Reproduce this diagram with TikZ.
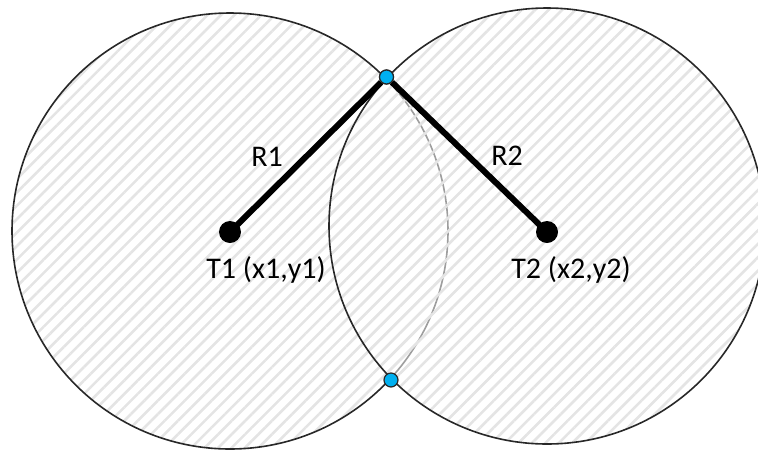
\documentclass[tikz,border=0pt]{standalone}
\usepackage{fontspec}
\setmainfont{Carlito}
\usepackage{xcolor}
\usepackage{tikz}
\usetikzlibrary{positioning,patterns.meta}
\definecolor{hatchgray}{RGB}{228,228,228}
\definecolor{pointblue}{RGB}{0,176,240}
\definecolor{darkline}{RGB}{40,40,40}

\begin{document}
\begin{tikzpicture}[
            x=1pt, y=-1pt,
            area/.style={draw=darkline, line width=1.6pt,
                        pattern={Lines[angle=45, distance=9.5pt, line width=2.6pt]},
                        pattern color=hatchgray},
            station/.style={circle, fill=black, inner sep=0pt, minimum size=22pt},
            crossing/.style={circle, draw=darkline, fill=pointblue, line width=1.2pt,
                            inner sep=0pt, minimum size=14pt},
            rline/.style={line width=6pt, black},
            label/.style={font=\fontsize{30}{36}\selectfont, inner sep=0pt}
        ]
            \useasboundingbox (0,0) rectangle (758,451);

            % 两个圆形区域
            \path[area] (230,231) circle[radius=218pt];
            \path[fill=white, fill opacity=0.55] (547,226) circle[radius=218pt];
            \path[area] (547,226) circle[radius=218pt];

            % 站点与交点
            \node[station] (T1) at (230,232) {};
            \node[station] (T2) at (547,232) {};
            \node[crossing] (P1) at (386.5,77) {};
            \node[crossing] (P2) at (391,380) {};

            % 半径
            \draw[rline] (T1.center) -- (P1);
            \draw[rline] (T2.center) -- (P1);

            % 标签
            \node[label] (r1) at (267,157) {R1};
            \node[label] (r2) at (507,156) {R2};
            \node[label, below=13pt of T1, xshift=36pt] (t1label) {T1 (x1,y1)};
            \node[label, below=13pt of T2, xshift=24pt] (t2label) {T2 (x2,y2)};
            \node[crossing] at (P1) {};
        \end{tikzpicture}
\end{document}
